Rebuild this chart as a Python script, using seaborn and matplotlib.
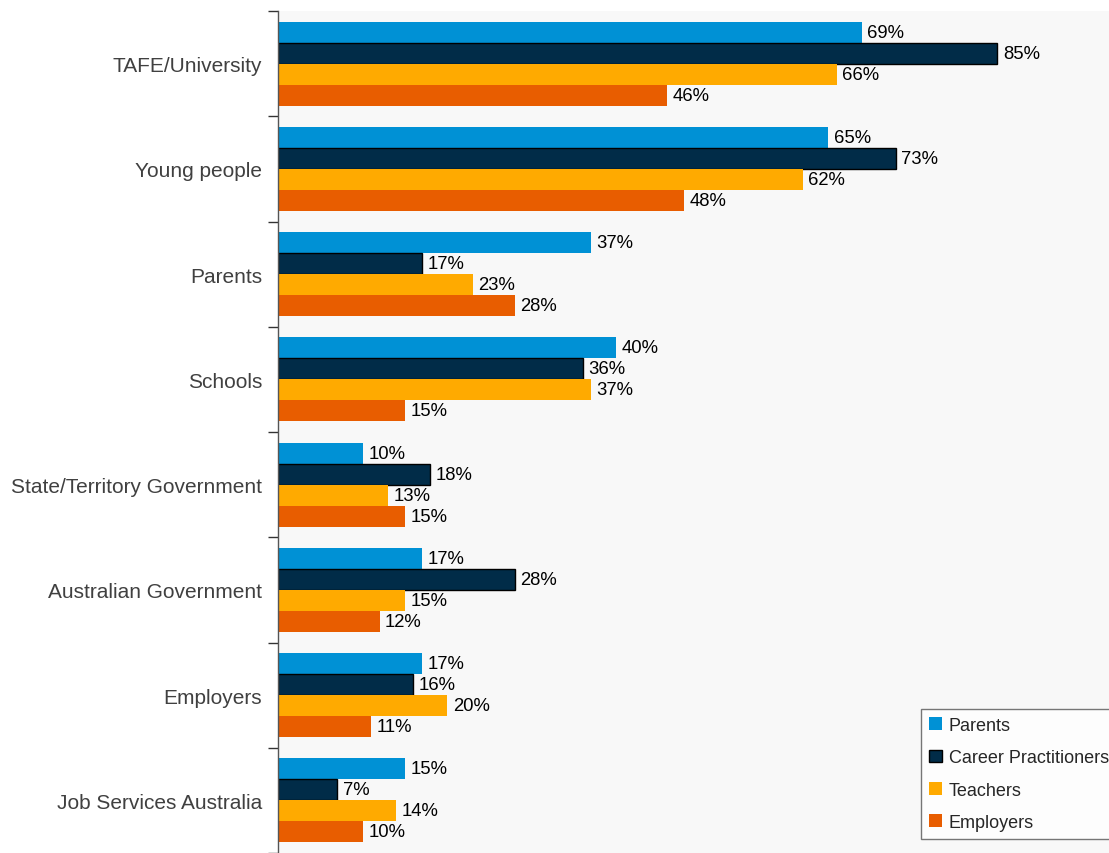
import matplotlib
matplotlib.use("Agg")
import matplotlib.pyplot as plt
import seaborn as sns
import pandas as pd
import numpy as np
from matplotlib.patches import Patch

categories = ["TAFE/University", "Young people", "Parents", "Schools",
              "State/Territory Government", "Australian Government",
              "Employers", "Job Services Australia"]
series_names = ["Parents", "Career Practitioners", "Teachers", "Employers"]
parents = [69, 65, 37, 40, 10, 17, 17, 15]
career = [85, 73, 17, 36, 18, 28, 16, 7]
teachers = [66, 62, 23, 37, 13, 15, 20, 14]
employers = [46, 48, 28, 15, 15, 12, 11, 10]
colors = ["#0091D5", "#012C48", "#FFAA00", "#E85D00"]

values = [parents, career, teachers, employers]
rows = []
for s, vals in zip(series_names, values):
    for c, v in zip(categories, vals):
        rows.append({"category": c, "series": s, "value": v})
df = pd.DataFrame(rows)

sns.set_style("white")
plt.rcParams["font.family"] = ["Liberation Sans", "DejaVu Sans"]

fig = plt.figure(figsize=(11.09, 8.54), dpi=100)
ax = fig.add_axes([278 / 1109, 0.0, 1 - 278 / 1109, (854 - 12) / 854])
ax.set_facecolor("#F8F8F8")

sns.barplot(data=df, y="category", x="value", hue="series", order=categories,
            hue_order=series_names, palette=colors, orient="h", width=0.8,
            saturation=1, ax=ax, legend=False, errorbar=None)

for i, cont in enumerate(ax.containers):
    for bar in cont:
        if i == 1:
            bar.set_edgecolor("black")
            bar.set_linewidth(1.0)
        else:
            bar.set_linewidth(0)
    ax.bar_label(cont, labels=[f"{int(v)}%" for v in cont.datavalues],
                 padding=4, fontsize=13.3, color="black")

ax.set_xlim(0, 98.2)
ax.set_ylim(len(categories) - 0.5, -0.5)
ax.set_xlabel("")
ax.set_ylabel("")
ax.set_xticks([])
ax.set_yticks(range(len(categories)))
ax.set_yticklabels(categories, fontsize=15, color="#404040")
ax.tick_params(axis="y", which="major", left=False, length=0, pad=11.5)
ax.set_yticks(np.arange(-0.5, len(categories), 1.0), minor=True)
ax.tick_params(axis="y", which="minor", left=True, length=7, width=1,
               color="#333333", direction="out")

for side in ["top", "right", "bottom"]:
    ax.spines[side].set_visible(False)
ax.spines["left"].set_color("#555555")
ax.spines["left"].set_linewidth(1)

handles = []
for i, (name, col) in enumerate(zip(series_names, colors)):
    if i == 1:
        handles.append(Patch(facecolor=col, edgecolor="black", linewidth=1, label=name))
    else:
        handles.append(Patch(facecolor=col, edgecolor=col, linewidth=0, label=name))
leg = ax.legend(handles=handles, loc="lower left",
                bbox_to_anchor=((921 - 278) / 831, 14 / 842),
                borderaxespad=0, frameon=True, fancybox=False, fontsize=13,
                handlelength=0.7, handleheight=0.7, handletextpad=0.4,
                labelspacing=0.85, borderpad=0.45)
leg.get_frame().set_edgecolor("#555555")
leg.get_frame().set_linewidth(1)
leg.get_frame().set_facecolor("white")

fig.savefig("out.png", dpi=100)
